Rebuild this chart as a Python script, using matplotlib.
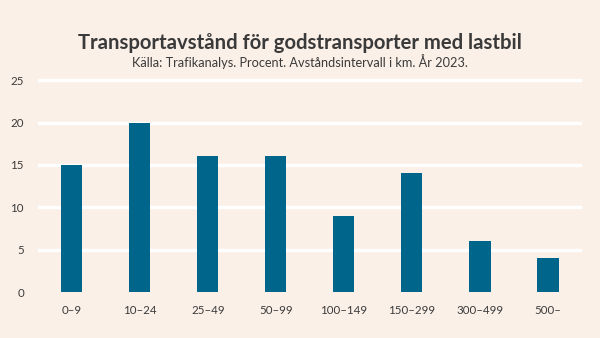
import matplotlib.pyplot as plt

# distance intervals (km) and share of goods transport (%)
categories = ["0–9", "10–24", "25–49", "50–99", "100–149", "150–299", "300–499", "500–"]
values = [15, 20, 16, 16, 9, 14, 6, 4]
yticks = [0, 5, 10, 15, 20, 25]

bg = "#FBF0E8"
bar_color = "#00658A"
text_color = "#3A3A3A"

plt.rcParams['font.family'] = ['Lato', 'DejaVu Sans']

fig = plt.figure(figsize=(6, 3.38), dpi=100, facecolor=bg)
ax = fig.add_axes([0.063, 0.136, 0.907, 0.633])
ax.set_facecolor(bg)

for y in yticks:
    ax.axhline(y, color="white", lw=2.4 if y > 0 else 1.0, zorder=1)

ax.bar(range(len(categories)), values, width=0.31, color=bar_color, zorder=2)

ax.set_xlim(-0.5, len(categories) - 0.5)
ax.set_ylim(0, 25.25)
ax.set_xticks(range(len(categories)))
ax.set_xticklabels(categories)
ax.set_yticks(yticks)
ax.tick_params(length=0, labelsize=8.3, colors=text_color)
ax.tick_params(axis='x', pad=9)
ax.tick_params(axis='y', pad=10)
for s in ax.spines.values():
    s.set_visible(False)

fig.text(0.5, 0.874, "Transportavstånd för godstransporter med lastbil",
         ha="center", va="center", fontsize=14.6, fontweight="bold", color=text_color)
fig.text(0.5, 0.818, "Källa: Trafikanalys. Procent. Avståndsintervall i km. År 2023.",
         ha="center", va="center", fontsize=9.2, color=text_color)

fig.savefig("out.png", dpi=100, facecolor=bg)
